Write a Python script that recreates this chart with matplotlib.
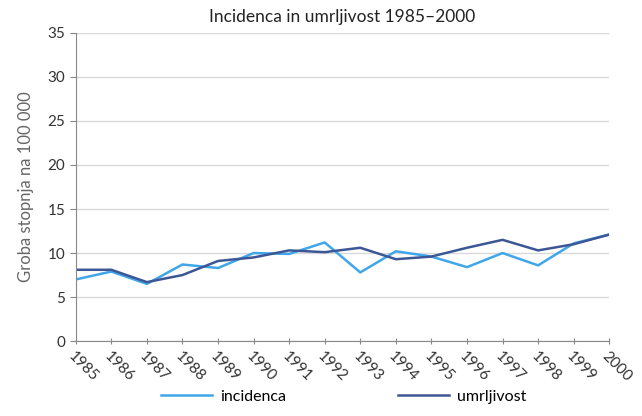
import matplotlib
matplotlib.use("Agg")
import matplotlib.pyplot as plt

plt.rcParams['font.family'] = ['Lato', 'DejaVu Sans']

years = list(range(1985, 2001))
incidenca = [7.0, 7.9, 6.5, 8.7, 8.3, 10.0, 9.9, 11.2, 7.8, 10.2, 9.6, 8.4, 10.0, 8.6, 11.1, 12.1]
umrljivost = [8.1, 8.1, 6.7, 7.5, 9.1, 9.5, 10.3, 10.1, 10.6, 9.3, 9.6, 10.6, 11.5, 10.3, 11.0, 12.1]
yticks = [0, 5, 10, 15, 20, 25, 30, 35]

fig = plt.figure(figsize=(6.42, 4.16), dpi=100)
ax = fig.add_axes([0.118, 0.180, 0.831, 0.741])

ax.plot(years, incidenca, color='#3fa6ea', lw=1.8, label='incidenca')
ax.plot(years, umrljivost, color='#3d5796', lw=1.8, label='umrljivost')

ax.set_xlim(1985, 2000)
ax.set_ylim(0, 35)
ax.set_yticks(yticks)
ax.set_xticks(years)
ax.set_xticklabels([str(y) for y in years], rotation=-45, ha='left', va='top',
                   rotation_mode='anchor')
ax.grid(axis='y', color='#d9d9d9', lw=1)
ax.set_axisbelow(True)

for s in ['top', 'right']:
    ax.spines[s].set_visible(False)
for s in ['left', 'bottom']:
    ax.spines[s].set_color('#888888')
ax.tick_params(colors='#888888', labelcolor='#333333', labelsize=11, length=4)
ax.tick_params(axis='x', direction='inout', pad=4)

ax.set_ylabel('Groba stopnja na 100 000', color='#666666', fontsize=12, labelpad=10)
ax.set_title('Incidenca in umrljivost 1985\u20132000', fontsize=12.5, color='#222222', pad=8)

fig.legend(loc='lower center', bbox_to_anchor=(0.535, -0.005), ncol=2, frameon=False,
           handlelength=3.2, handletextpad=0.5, columnspacing=7, fontsize=11.5)

fig.savefig('out.png', dpi=100)
